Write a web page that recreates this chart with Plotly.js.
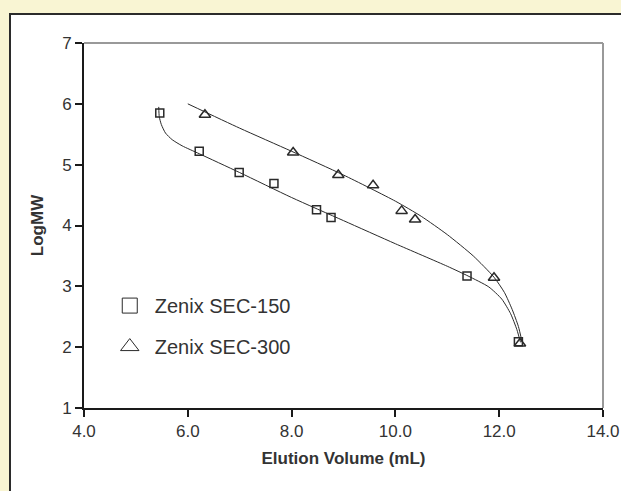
<!DOCTYPE html>
<html>
<head>
<meta charset="utf-8">
<script src="https://cdn.plot.ly/plotly-3.0.1.min.js"></script>
<style>
html,body{margin:0;padding:0;background:#f9f5d3;overflow:hidden;}
#frame{position:absolute;left:9px;top:13px;width:700px;height:600px;background:#ffffff;border-left:2px solid #2b2b2b;border-top:2px solid #2b2b2b;}
#chart{position:absolute;left:0;top:0;width:621px;height:491px;}
</style>
</head>
<body>
<div id="frame"></div>
<div id="chart"></div>
<script>
// Measured points
const sec150Volume = [5.46, 6.22, 6.99, 7.66, 8.48, 8.76, 11.38, 12.37];
const sec150LogMW  = [5.85, 5.22, 4.87, 4.69, 4.26, 4.13, 3.17, 2.09];
const sec300Volume = [6.33, 8.03, 8.90, 9.57, 10.12, 10.38, 11.90, 12.40];
const sec300LogMW  = [5.82, 5.20, 4.83, 4.66, 4.24, 4.10, 3.14, 2.06];

// Trend curves
const fit150Volume = [5.44, 5.45, 5.49, 5.57, 5.70, 5.89, 6.22, 7.0, 8.0, 9.0, 10.0, 11.0, 11.4, 11.8, 12.05, 12.22, 12.34, 12.41];
const fit150LogMW  = [5.95, 5.79, 5.66, 5.52, 5.41, 5.31, 5.18, 4.87, 4.46, 4.08, 3.70, 3.33, 3.17, 2.99, 2.79, 2.55, 2.29, 2.08];
const fit300Volume = [6.0, 7.0, 8.0, 9.0, 10.0, 10.5, 11.0, 11.5, 11.9, 12.1, 12.25, 12.37, 12.44];
const fit300LogMW  = [6.0, 5.60, 5.22, 4.83, 4.40, 4.15, 3.85, 3.50, 3.15, 2.90, 2.62, 2.34, 2.09];

const seriesNames = ["Zenix SEC-150", "Zenix SEC-300"];
const xTickVals = [4, 6, 8, 10, 12, 14];
const xTickText = ["4.0", "6.0", "8.0", "10.0", "12.0", "14.0"];
const yTickVals = [1, 2, 3, 4, 5, 6, 7];

const ink = "#2a2a2a";
const traces = [
  {x: fit150Volume, y: fit150LogMW, mode: "lines", line: {color: ink, width: 1, shape: "spline", smoothing: 0.6}, showlegend: false, hoverinfo: "skip"},
  {x: fit300Volume, y: fit300LogMW, mode: "lines", line: {color: ink, width: 1, shape: "spline", smoothing: 0.6}, showlegend: false, hoverinfo: "skip"},
  {x: sec150Volume, y: sec150LogMW, mode: "markers", name: seriesNames[0], showlegend: false,
   marker: {symbol: "square-open", size: 8, color: ink, line: {width: 1.5, color: ink}}},
  {x: sec300Volume, y: sec300LogMW, mode: "markers", name: seriesNames[1], showlegend: false,
   marker: {symbol: "triangle-up-open", size: 10, color: ink, line: {width: 1.5, color: ink}}},
  {x: [null], y: [null], mode: "markers", name: seriesNames[0], legendgroup: "a",
   marker: {symbol: "square-open", size: 15, color: ink, line: {width: 1, color: ink}}},
  {x: [null], y: [null], mode: "markers", name: seriesNames[1], legendgroup: "b",
   marker: {symbol: "triangle-up-open", size: 16, color: ink, line: {width: 1, color: ink}}}
];

const layout = {
  width: 621, height: 491,
  paper_bgcolor: "rgba(0,0,0,0)", plot_bgcolor: "#ffffff",
  margin: {l: 83.5, r: 18.3, t: 43.3, b: 83},
  font: {family: "Liberation Sans, Arial, sans-serif", color: "#333333"},
  xaxis: {
    range: [4, 14], tickvals: xTickVals, ticktext: xTickText,
    showgrid: false, zeroline: false, showline: true, linecolor: "#1a1a1a", linewidth: 2,
    ticks: "outside", ticklen: 7, tickwidth: 2, tickcolor: "#1a1a1a",
    tickfont: {size: 17, color: "#333333"},
    title: {text: "<b>Elution Volume (mL)</b>", font: {size: 17, color: "#333333"}, standoff: 12}
  },
  yaxis: {
    range: [1, 7], tickvals: yTickVals,
    showgrid: false, zeroline: false, showline: true, linecolor: "#1a1a1a", linewidth: 2,
    ticks: "outside", ticklen: 7, tickwidth: 2, tickcolor: "#1a1a1a",
    tickfont: {size: 17, color: "#333333"},
    title: {text: "<b>LogMW</b>", font: {size: 17, color: "#333333"}, standoff: 14}
  },
  shapes: [
    {type: "line", xref: "paper", yref: "paper", x0: 0, x1: 1, y0: 1, y1: 1, line: {color: "#999999", width: 2}, layer: "below"},
    {type: "line", xref: "paper", yref: "paper", x0: 1, x1: 1, y0: 0, y1: 1, line: {color: "#999999", width: 2}, layer: "below"}
  ],
  showlegend: true,
  legend: {x: 0.04, y: 0.334, xanchor: "left", yanchor: "top", bgcolor: "rgba(0,0,0,0)",
           font: {size: 20, color: "#333333"}, itemwidth: 40, tracegroupgap: 12, traceorder: "grouped"}
};

Plotly.newPlot("chart", traces, layout, {displayModeBar: false, staticPlot: true});
</script>
</body>
</html>
